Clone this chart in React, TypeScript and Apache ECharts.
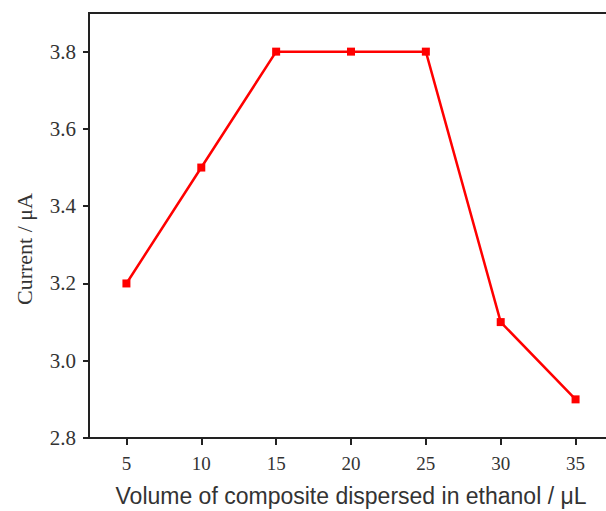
import React, { useEffect, useRef } from "react";
import * as echarts from "echarts";

const volumes = [5, 10, 15, 20, 25, 30, 35];
const currents = [3.2, 3.5, 3.8, 3.8, 3.8, 3.1, 2.9];
const xTicks = [5, 10, 15, 20, 25, 30, 35];
const yTicks = [2.8, 3.0, 3.2, 3.4, 3.6, 3.8];
const xName = "Volume of composite dispersed in ethanol / μL";
const yName = "Current / μA";

const SERIF = "Liberation Serif";
const SANS = "Liberation Sans";

export default function App() {
  const ref = useRef<HTMLDivElement>(null);
  useEffect(() => {
    if (!ref.current) return;
    const chart = echarts.init(ref.current, undefined, { renderer: "svg" });
    const axisLine = { show: true, lineStyle: { color: "#222", width: 2 } };
    const tickStyle = { color: "#222", width: 2 };
    chart.setOption({
      animation: false,
      backgroundColor: "#ffffff",
      textStyle: { fontFamily: SERIF },
      grid: {
        left: 89,
        top: 13,
        width: 524,
        height: 425,
        show: true,
        borderColor: "#222",
        borderWidth: 2,
        backgroundColor: "transparent",
        containLabel: false,
        outerBoundsMode: "none",
      },
      xAxis: {
        type: "value",
        min: 2.5,
        max: 37.5,
        name: xName,
        nameLocation: "middle",
        nameGap: 46,
        nameTextStyle: { fontFamily: SANS, fontSize: 23, color: "#333" },
        axisLine,
        axisTick: { show: true, inside: false, length: 7, lineStyle: tickStyle, customValues: xTicks },
        axisLabel: {
          customValues: xTicks,
          margin: 16,
          formatter: (v: number) => `{s|${v}}`,
          rich: { s: { fontFamily: SERIF, fontSize: 19, color: "#333" } },
        },
        splitLine: { show: false },
      },
      yAxis: {
        type: "value",
        min: 2.8,
        max: 3.9,
        axisLine,
        axisTick: { show: true, inside: false, length: 6, lineStyle: tickStyle, customValues: yTicks },
        axisLabel: {
          customValues: yTicks,
          margin: 13,
          formatter: (v: number) => `{s|${v.toFixed(1)}}`,
          rich: { s: { fontFamily: SERIF, fontSize: 21, color: "#333" } },
        },
        splitLine: { show: false },
      },
      graphic: [
        {
          type: "text",
          x: 24,
          y: 249,
          rotation: Math.PI / 2,
          style: {
            text: yName,
            fontFamily: SERIF,
            fontSize: 22,
            fill: "#333",
            textAlign: "center",
            textVerticalAlign: "middle",
          },
        },
      ],
      series: [
        {
          type: "line",
          data: volumes.map((v, i) => [v, currents[i]]),
          symbol: "rect",
          symbolSize: 8,
          lineStyle: { color: "#ff0000", width: 2.5 },
          itemStyle: { color: "#ff0000" },
          clip: false,
        },
      ],
    });
    return () => chart.dispose();
  }, []);
  return (
    <div
      ref={ref}
      style={{ position: "absolute", left: 0, top: 0, width: 606, height: 511 }}
    />
  );
}
